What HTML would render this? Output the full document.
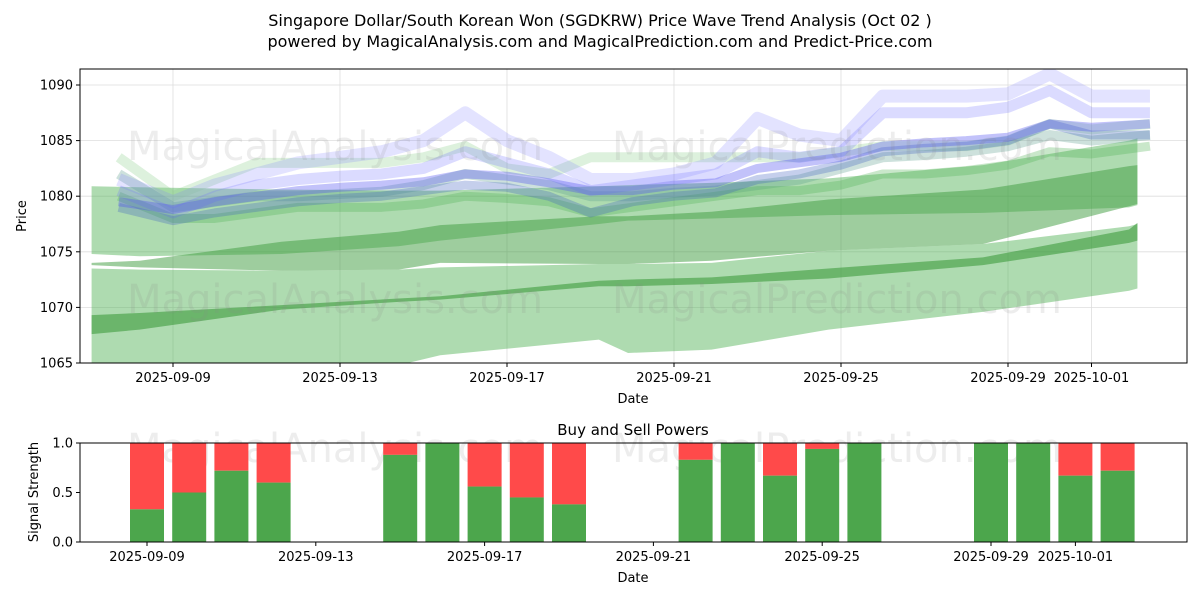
<!DOCTYPE html>
<html><head><meta charset="utf-8"><style>
body{margin:0;background:#fff;width:1200px;height:600px;overflow:hidden;font-family:"Liberation Sans","DejaVu Sans",sans-serif}
svg text{font-family:"DejaVu Sans","Liberation Sans",sans-serif}
</style></head><body>
<svg id="chart" width="1200" height="600" xmlns="http://www.w3.org/2000/svg"></svg>
<script>
// ---- data ----
const bandDays = [7.05, 8.2, 11.6, 14.4, 15.4, 19.2, 19.9, 21.9, 24.7, 28.4, 31.9, 32.1];
const lightLowTop = [1073.5, 1073.4, 1073.3, 1073.4, 1073.6, 1073.9, 1073.9, 1074.0, 1075.1, 1075.7, 1077.3, 1077.5];
const lightLowBot = [1061.0, 1062.0, 1063.5, 1064.8, 1065.7, 1067.1, 1065.9, 1066.2, 1068.0, 1069.6, 1071.5, 1071.7];
const lightHighTop = [1080.9, 1080.8, 1080.6, 1080.5, 1080.5, 1080.9, 1081.0, 1081.2, 1081.6, 1082.8, 1085.0, 1085.2];
const lightHighBot = [1074.8, 1074.6, 1074.8, 1075.5, 1076.0, 1077.5, 1077.8, 1078.0, 1078.3, 1078.5, 1079.0, 1079.2];
const darkMidTop = [1074.0, 1074.2, 1075.9, 1076.8, 1077.4, 1078.2, 1078.2, 1078.6, 1079.7, 1080.6, 1082.7, 1082.8];
const darkMidBot = [1073.8, 1073.6, 1073.3, 1073.4, 1074.0, 1073.9, 1073.9, 1074.2, 1075.1, 1075.7, 1079.1, 1079.3];
const thinTop = [1069.3, 1069.5, 1070.2, 1070.8, 1071.0, 1072.4, 1072.5, 1072.7, 1073.5, 1074.5, 1077.0, 1077.6];
const thinBot = [1067.6, 1068.0, 1069.8, 1070.5, 1070.7, 1071.9, 1071.9, 1072.1, 1072.6, 1073.8, 1075.8, 1076.0];

const lineDays = [7.7,9,10,11,12,13,14,15,16,17,18,19,20,21,22,23,24,25,26,27,28,29,30,31,32.4];
const blueMid = [1079.5,1078.8,1079.5,1080,1080.5,1080.8,1081,1081.3,1082,1081.8,1081.2,1080.5,1080.5,1081,1081.2,1082.5,1083,1083.5,1084.5,1084.8,1085,1085.3,1086.5,1086.2,1086.5];
const blueSpike = [1081.5,1079.5,1081,1082,1083,1083.5,1084,1085,1087.5,1085,1083.5,1081.5,1081.5,1082,1083,1087,1085.5,1085,1089,1089,1089,1089.2,1091,1089,1089];
const blueUpper = [1080.5,1078.5,1080,1081,1081.5,1081.8,1082,1082.5,1084,1083,1082,1080.5,1081,1081.5,1082,1084,1083.5,1084,1087.5,1087.5,1087.5,1088,1089.5,1087.5,1087.5];
const blueLower = [1079,1077.8,1078.5,1079,1079.5,1079.8,1080,1080.5,1081,1080.8,1080,1078.5,1079.5,1080,1080.3,1081.5,1082,1082.8,1084,1084.3,1084.5,1085,1086.5,1085.5,1085.5];
const greenTop = [1083.5,1080,1081.5,1083,1083,1083,1083,1083.5,1084.5,1082.5,1082,1083.5,1083.5,1083.5,1083.5,1083.5,1083.5,1084,1084.5,1084.5,1084.5,1085,1086.5,1086,1086.5];
const greenMid = [1082,1079,1079.5,1080,1080,1080.2,1080.4,1081,1082,1081.5,1081,1080,1080,1080.3,1080.5,1081,1081.5,1082.5,1083.5,1083.7,1084,1084.5,1085.5,1085,1085.5];
const greenLow = [1080,1078,1078,1078.5,1079,1079,1079,1079.3,1080,1079.8,1079.5,1078.5,1079,1079.5,1080,1080.5,1080.5,1081,1082,1082,1082.3,1082.8,1084,1083.8,1084.5];

const barDays = [9,10,11,12,15,16,17,18,19,22,23,24,25,26,29,30,31,32];
const buyPower = [0.33,0.5,0.72,0.6,0.88,1.0,0.56,0.45,0.38,0.83,1.0,0.67,0.94,1.0,1.0,1.0,0.67,0.72];

const yTicks = [1065,1070,1075,1080,1085,1090];
const xTickDays = [9,13,17,21,25,29,31];
const xTickLabels = ["2025-09-09","2025-09-13","2025-09-17","2025-09-21","2025-09-25","2025-09-29","2025-10-01"];
const sTicks = [0,0.5,1];
const sTickLabels = ["0.0","0.5","1.0"];

// ---- scales ----
const NS="http://www.w3.org/2000/svg";
const svg=document.getElementById('chart');
const L=80,R=1187,T1=69,B1=363,T2=443,B2=542;
const x=d=>173+(d-9)*41.75;
const x2=d=>147+(d-9)*42.2;
const y=v=>363-(v-1065)*11.12;
const ys=v=>B2-v*(B2-T2);
function mk(tag,attrs,parent){const e=document.createElementNS(NS,tag);for(const k in attrs)e.setAttribute(k,attrs[k]);(parent||svg).appendChild(e);return e;}

const clip=mk('clipPath',{id:'c1'});mk('rect',{x:L,y:T1,width:R-L,height:B1-T1},clip);
const clip2=mk('clipPath',{id:'c2'});mk('rect',{x:L,y:T2,width:R-L,height:B2-T2},clip2);

// title
let t=mk('text',{x:600,y:26,'text-anchor':'middle','font-size':16,fill:'#000'});t.textContent='Singapore Dollar/South Korean Won (SGDKRW) Price Wave Trend Analysis (Oct 02 )';


t=mk('text',{x:600,y:47,'text-anchor':'middle','font-size':16,fill:'#000'});t.textContent='powered by MagicalAnalysis.com and MagicalPrediction.com and Predict-Price.com';



// grid top
const g1=mk('g',{'clip-path':'url(#c1)'});


yTicks.forEach(v=>mk('line',{x1:L,x2:R,y1:y(v),y2:y(v),stroke:'#ddd','stroke-width':0.8},g1));
xTickDays.forEach(d=>mk('line',{x1:x(d),x2:x(d),y1:T1,y2:B1,stroke:'#ddd','stroke-width':0.8},g1));

function band(top,bot,fill,op,name){
  let p='';bandDays.forEach((d,i)=>p+=(i?'L':'M')+x(d)+','+y(top[i]));
  for(let i=bandDays.length-1;i>=0;i--)p+='L'+x(bandDays[i])+','+y(bot[i]);
  const e=mk('path',{d:p+'Z',fill:fill,'fill-opacity':op},g1);
  
  
}
band(lightLowTop,lightLowBot,'#4caf50',0.45,'lower-range-band');
band(lightHighTop,lightHighBot,'#4caf50',0.45,'upper-range-band');
band(darkMidTop,darkMidBot,'#3d9b3d',0.5,'middle-trend-band');
band(thinTop,thinBot,'#3d9b3d',0.6,'lower-trend-band');

function line(vals,color,w,op,name){
  const pts=lineDays.map((d,i)=>x(d)+','+y(vals[i])).join(' ');
  const e=mk('polyline',{points:pts,fill:'none',stroke:color,'stroke-width':w,'stroke-opacity':op,'stroke-linejoin':'round','stroke-linecap':'butt'},g1);
  
  
}
line(greenTop,'#8fcf8f',10,0.3,'wave-green-top');
line(greenMid,'#5a9a8a',10,0.3,'wave-green-mid');
line(greenLow,'#4caf50',9,0.3,'wave-green-low');
line(blueSpike,'#8080ff',13,0.22,'wave-blue-spike');
line(blueUpper,'#7070ff',11,0.25,'wave-blue-upper');
line(blueLower,'#4060c0',9,0.3,'wave-blue-lower');
line(blueMid,'#5050f0',9,0.35,'wave-blue-mid');

// watermarks
[['MagicalAnalysis.com',335,160],['MagicalPrediction.com',837,160],['MagicalAnalysis.com',335,313],['MagicalPrediction.com',837,313],['MagicalAnalysis.com',335,462],['MagicalPrediction.com',837,462]].forEach((w,i)=>{
  const e=mk('text',{x:w[1],y:w[2],'text-anchor':'middle','font-size':40,fill:'#888','fill-opacity':0.15});e.textContent=w[0];
  
  
});

// top axes
mk('rect',{x:L,y:T1,width:R-L,height:B1-T1,fill:'none',stroke:'#000','stroke-width':1});
yTicks.forEach(v=>{mk('line',{x1:L-4,x2:L,y1:y(v),y2:y(v),stroke:'#000'});
  const e=mk('text',{x:L-7,y:y(v)+4.5,'text-anchor':'end','font-size':13});e.textContent=v;
  
  });
xTickDays.forEach((d,i)=>{mk('line',{x1:x(d),x2:x(d),y1:B1,y2:B1+4,stroke:'#000'});
  const e=mk('text',{x:x(d),y:B1+19,'text-anchor':'middle','font-size':13});e.textContent=xTickLabels[i];
  
  });
t=mk('text',{x:633,y:403,'text-anchor':'middle','font-size':13});t.textContent='Date';


t=mk('text',{x:26,y:216,'text-anchor':'middle','font-size':13,transform:'rotate(-90 26 216)'});t.textContent='Price';



// bottom chart
t=mk('text',{x:633,y:435,'text-anchor':'middle','font-size':15});t.textContent='Buy and Sell Powers';


const g2=mk('g',{'clip-path':'url(#c2)'});
const bw=34;
barDays.forEach((d,i)=>{
  const cx=x2(d);
  const r=mk('rect',{x:cx-bw/2,y:ys(1),width:bw,height:ys(buyPower[i])-ys(1),fill:'#ff4a4a'},g2);
  
  
  const g=mk('rect',{x:cx-bw/2,y:ys(buyPower[i]),width:bw,height:ys(0)-ys(buyPower[i]),fill:'#4ca64c'},g2);
  
  
});
mk('rect',{x:L,y:T2,width:R-L,height:B2-T2,fill:'none',stroke:'#000','stroke-width':1});
sTicks.forEach((v,i)=>{mk('line',{x1:L-4,x2:L,y1:ys(v),y2:ys(v),stroke:'#000'});
  const e=mk('text',{x:L-7,y:ys(v)+4.5,'text-anchor':'end','font-size':13});e.textContent=sTickLabels[i];
  
  });
xTickDays.forEach((d,i)=>{mk('line',{x1:x2(d),x2:x2(d),y1:B2,y2:B2+4,stroke:'#000'});
  const e=mk('text',{x:x2(d),y:B2+19,'text-anchor':'middle','font-size':13});e.textContent=xTickLabels[i];
  
  });
t=mk('text',{x:633,y:582,'text-anchor':'middle','font-size':13});t.textContent='Date';


t=mk('text',{x:38,y:492,'text-anchor':'middle','font-size':13,transform:'rotate(-90 38 492)'});t.textContent='Signal Strength';


</script>
</body></html>
